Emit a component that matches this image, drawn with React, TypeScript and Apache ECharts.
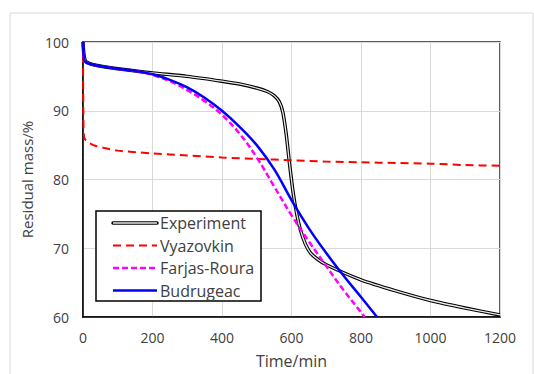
import React, { useEffect, useRef } from "react";
import * as echarts from "echarts";

const xTicks = [0, 200, 400, 600, 800, 1000, 1200];
const yTicks = [60, 70, 80, 90, 100];

const experimentT = [0, 2, 5, 10, 30, 100, 200, 300, 400, 450, 500, 530, 550, 565, 575, 585, 595, 605, 615, 625, 640, 655, 675, 700, 800, 900, 1000, 1100, 1200];
const experimentM = [100, 98.5, 97.5, 97.1, 96.7, 96.1, 95.5, 95.0, 94.3, 93.9, 93.3, 92.8, 92.2, 91.3, 89.8, 86.5, 82.0, 78.0, 75.0, 72.8, 70.6, 69.3, 68.4, 67.6, 65.4, 63.8, 62.4, 61.3, 60.3];

const vyazovkinT = [0, 1, 3, 10, 30, 60, 100, 200, 300, 400, 500, 600, 700, 800, 900, 1000, 1100, 1200];
const vyazovkinM = [100, 90, 86.2, 85.6, 85.0, 84.6, 84.2, 83.8, 83.5, 83.2, 83.0, 82.8, 82.6, 82.5, 82.4, 82.3, 82.1, 82.0];

const farjasT = [0, 2, 5, 20, 100, 150, 200, 250, 300, 350, 400, 450, 500, 550, 600, 650, 700, 750, 800, 811];
const farjasM = [100, 98, 97.2, 96.8, 96.1, 95.8, 95.2, 94.3, 93.0, 91.4, 89.4, 86.7, 83.2, 79.0, 74.8, 71.0, 67.4, 63.9, 60.7, 60];

const budrugeacT = [0, 2, 5, 20, 100, 150, 200, 250, 300, 350, 400, 450, 500, 550, 600, 650, 700, 750, 800, 846];
const budrugeacM = [100, 98, 97.2, 96.8, 96.1, 95.8, 95.3, 94.5, 93.4, 91.9, 90.0, 87.7, 85.0, 81.5, 77.0, 72.9, 69.3, 66.0, 62.9, 60];

const legendNames = ["Experiment", "Vyazovkin", "Farjas-Roura", "Budrugeac"];

const zip = (a: number[], b: number[]) => a.map((v, i) => [v, b[i]]);

export default function App() {
  const ref = useRef<HTMLDivElement>(null);
  useEffect(() => {
    if (!ref.current) return;
    const chart = echarts.init(ref.current, null, { renderer: "svg" });
    const font = "'Open Sans', 'Liberation Sans', sans-serif";
    const legendX = 96, legendY = 211, rowH = 22.5;
    const lx1 = 113, lx2 = 157, tx = 160;
    const rowY = (i: number) => legendY + 12 + i * rowH;
    chart.setOption({
      animation: false,
      backgroundColor: "#ffffff",
      grid: { left: 83, right: 34, top: 42, bottom: 52, show: true, borderColor: "#262626", borderWidth: 1.5, containLabel: false },
      xAxis: {
        type: "value", min: 0, max: 1200, interval: 200,
        name: "Time/min", nameLocation: "middle", nameGap: 36,
        nameTextStyle: { fontFamily: font, fontSize: 16, color: "#404040" },
        axisLine: { show: true, onZero: false, lineStyle: { color: "#000", width: 1.5 } },
        axisTick: { show: false },
        axisLabel: { fontFamily: font, fontSize: 14, color: "#404040", margin: 13, formatter: (v: number) => (xTicks.includes(v) ? String(v) : "") },
        splitLine: { show: true, lineStyle: { color: "#d9d9d9", width: 1 } },
      },
      yAxis: {
        type: "value", min: 60, max: 100, interval: 10,
        name: "Residual mass/%", nameLocation: "middle", nameGap: 47,
        nameTextStyle: { fontFamily: font, fontSize: 15, color: "#404040" },
        axisLine: { show: true, onZero: false, lineStyle: { color: "#000", width: 1.5 } },
        axisTick: { show: false },
        axisLabel: { fontFamily: font, fontSize: 14, color: "#404040", margin: 14, formatter: (v: number) => (yTicks.includes(v) ? String(v) : "") },
        splitLine: { show: true, lineStyle: { color: "#d9d9d9", width: 1 } },
      },
      series: [
        { name: "Experiment", type: "line", data: zip(experimentT, experimentM), showSymbol: false, smooth: 0.2, lineStyle: { color: "#000", width: 3.5 }, z: 2 },
        { name: "Experiment-inner", type: "line", data: zip(experimentT, experimentM), showSymbol: false, smooth: 0.2, lineStyle: { color: "#e8e8e8", width: 1.3 }, z: 3 },
        { name: "Vyazovkin", type: "line", data: zip(vyazovkinT, vyazovkinM), showSymbol: false, smooth: 0.3, lineStyle: { color: "#ff0000", width: 2, type: [8, 5] }, z: 4 },
        { name: "Farjas-Roura", type: "line", data: zip(farjasT, farjasM), showSymbol: false, smooth: 0.4, lineStyle: { color: "#ff00ff", width: 2.5, type: [6, 3] }, z: 5 },
        { name: "Budrugeac", type: "line", data: zip(budrugeacT, budrugeacM), showSymbol: false, smooth: 0.4, lineStyle: { color: "#0000ff", width: 2.5 }, z: 6 },
      ],
      graphic: [
        { type: "rect", shape: { x: 10, y: 13, width: 523, height: 380 }, style: { fill: "none", stroke: "#d9d9d9", lineWidth: 1 }, z: 0, silent: true },
        { type: "rect", shape: { x: legendX, y: legendY, width: 165, height: 90 }, style: { fill: "#fff", stroke: "#000", lineWidth: 1.5 }, z: 100 },
        { type: "line", shape: { x1: lx1, y1: rowY(0), x2: lx2, y2: rowY(0) }, style: { stroke: "#000", lineWidth: 3.5, lineCap: "round" }, z: 101 },
        { type: "line", shape: { x1: lx1, y1: rowY(0), x2: lx2, y2: rowY(0) }, style: { stroke: "#e8e8e8", lineWidth: 1.3 }, z: 102 },
        { type: "line", shape: { x1: lx1, y1: rowY(1), x2: lx2, y2: rowY(1) }, style: { stroke: "#ff0000", lineWidth: 2, lineDash: [8, 5] }, z: 101 },
        { type: "line", shape: { x1: lx1, y1: rowY(2), x2: lx2, y2: rowY(2) }, style: { stroke: "#ff00ff", lineWidth: 2.5, lineDash: [6, 3] }, z: 101 },
        { type: "line", shape: { x1: lx1, y1: rowY(3), x2: lx2, y2: rowY(3) }, style: { stroke: "#0000ff", lineWidth: 2.5 }, z: 101 },
        ...legendNames.map((n, i) => ({
          type: "text", x: tx, y: rowY(i), z: 101,
          style: { text: n, fontFamily: font, fontSize: 16, fill: "#404040", verticalAlign: "middle" },
        })),
      ],
    });
    return () => chart.dispose();
  }, []);
  return <div ref={ref} style={{ position: "fixed", left: 0, top: 0, width: 534, height: 374 }} />;
}
